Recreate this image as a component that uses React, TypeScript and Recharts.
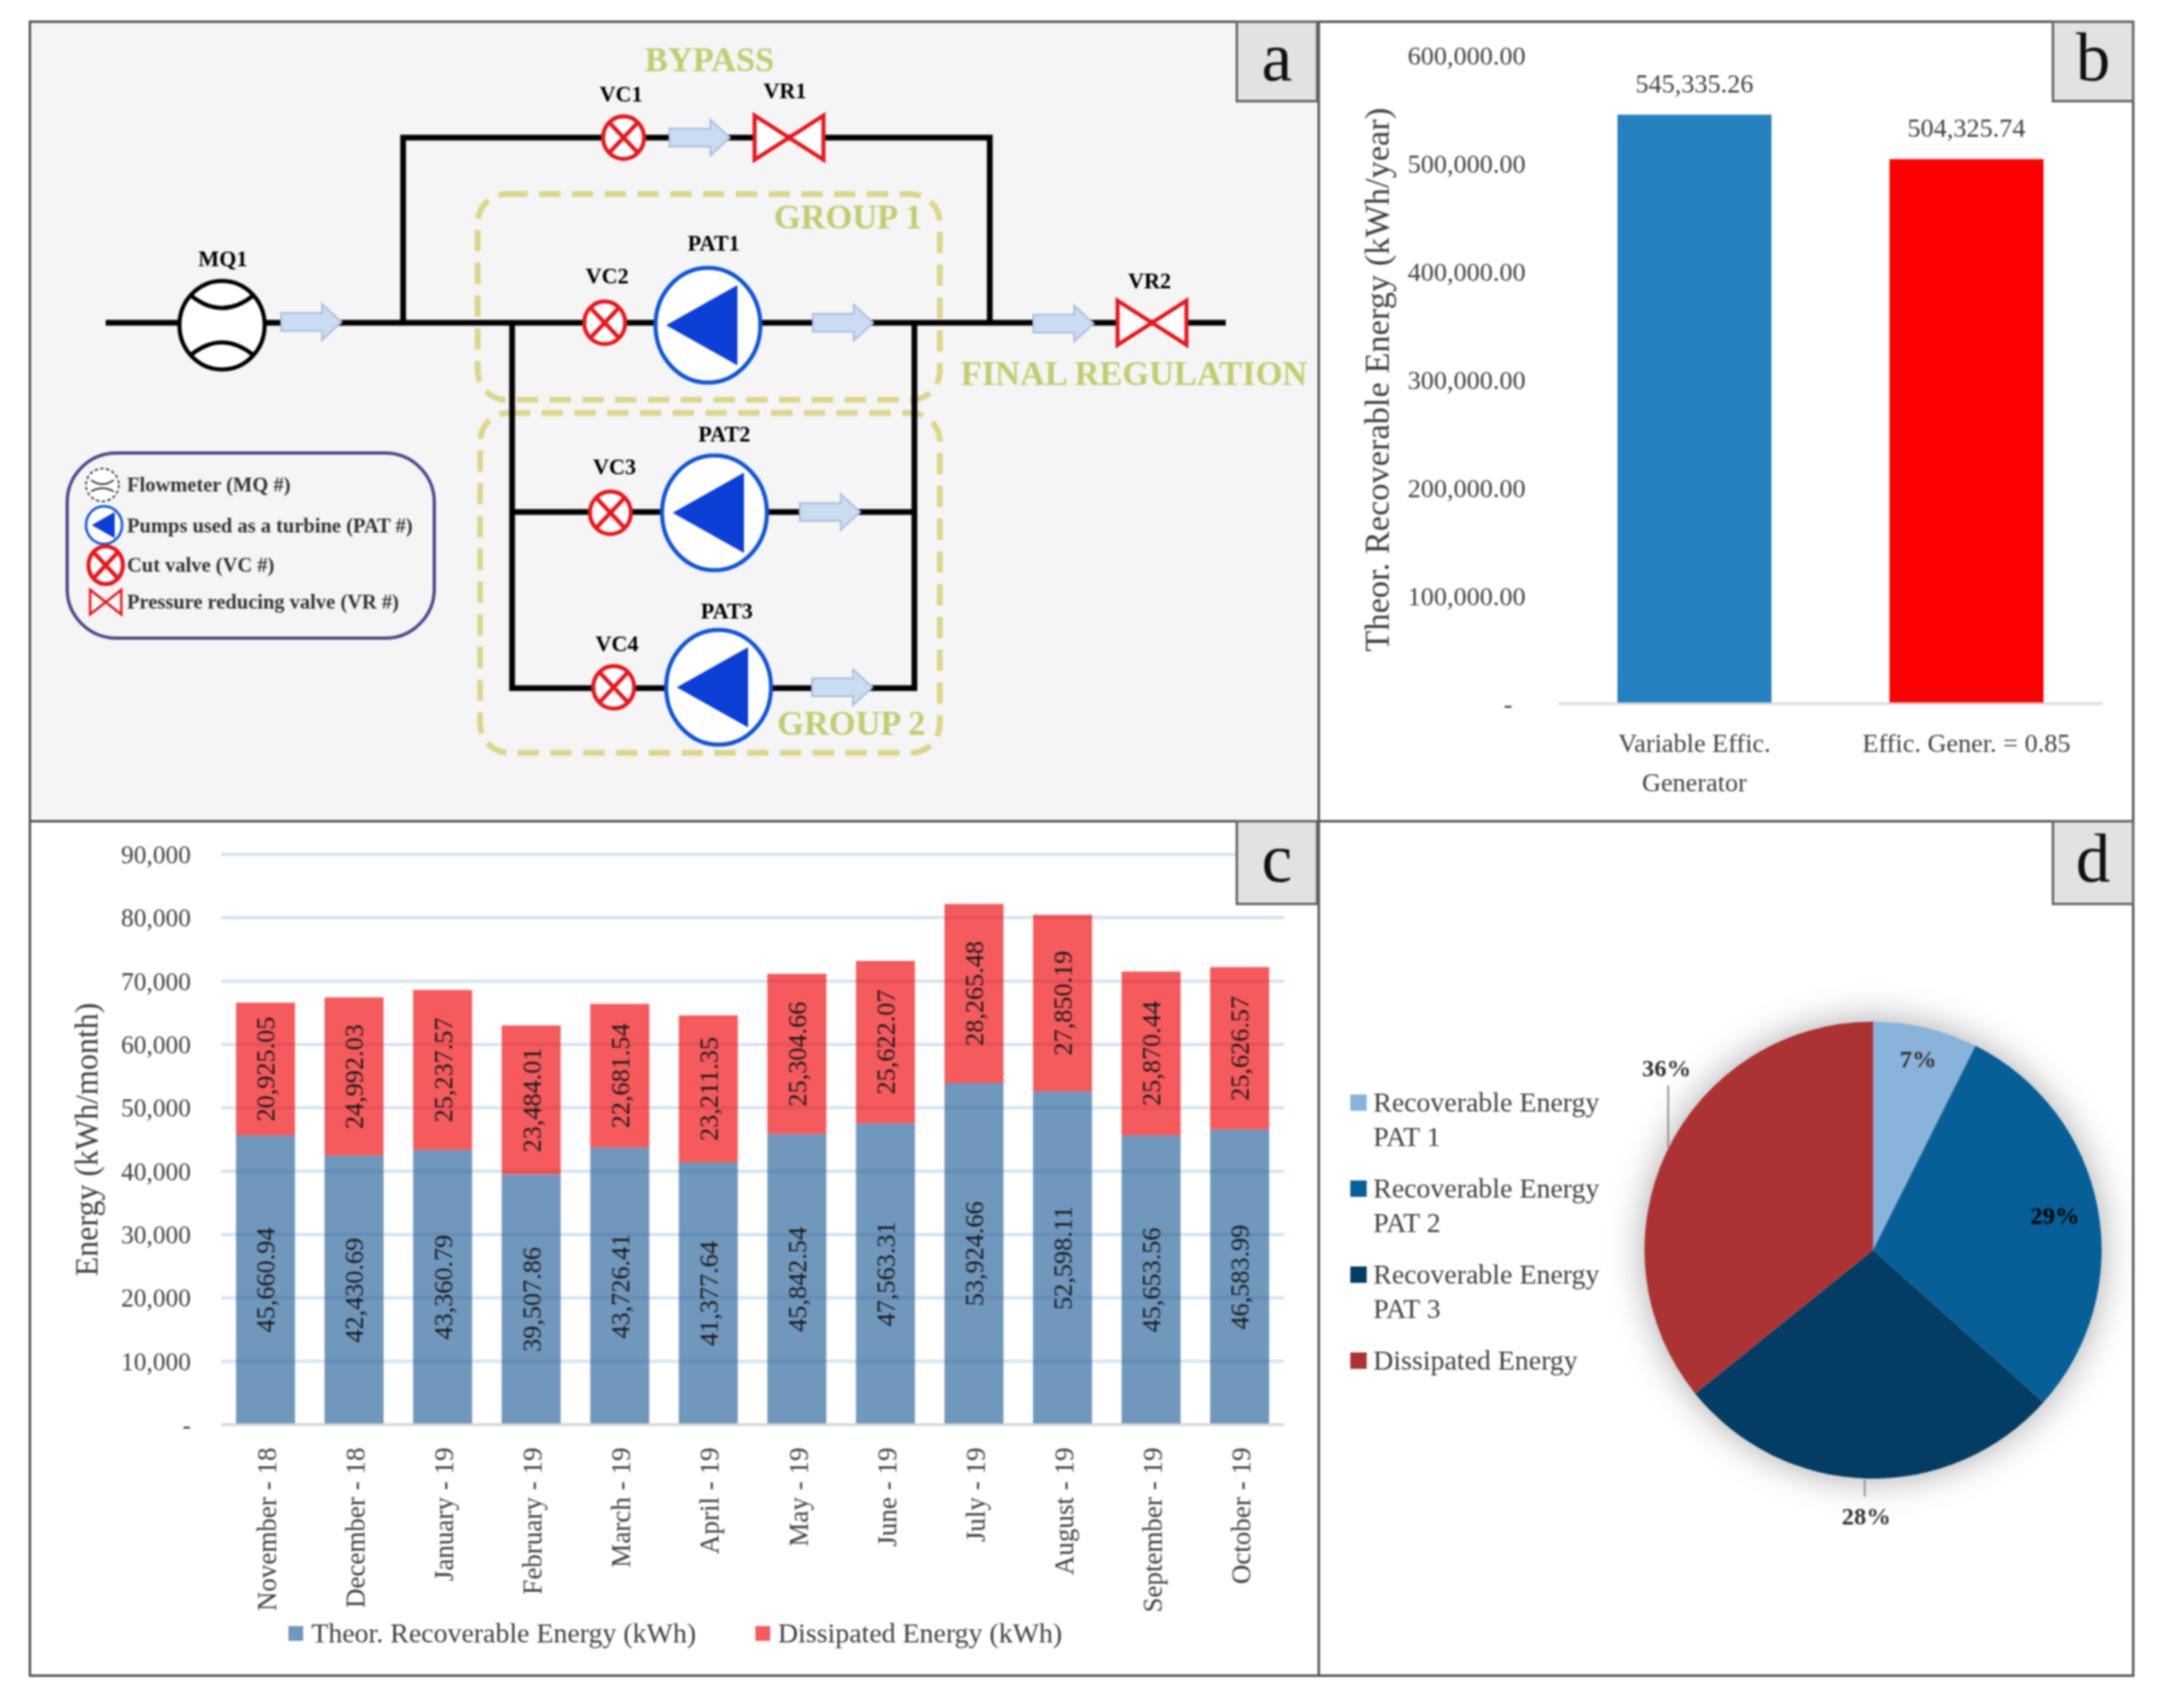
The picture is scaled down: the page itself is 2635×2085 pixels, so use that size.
import React from "react";
import { BarChart, Bar, XAxis, YAxis, CartesianGrid, LabelList, Legend, Cell, PieChart, Pie } from "recharts";

const FONT = "'Liberation Serif', serif";
const TEXT = "#404040";
const STACK_OPACITY = 0.65;

// panel b
const effCategories = ["Variable Effic. Generator", "Effic. Gener. = 0.85"];
const effLines = [["Variable Effic.", "Generator"], ["Effic. Gener. = 0.85"]];
const effValues = [545335.26, 504325.74];
const effColors = ["#2580bf", "#ff0000"];
const effTicks = [0, 100000, 200000, 300000, 400000, 500000, 600000];

// panel c
const months = ["November - 18", "December - 18", "January - 19", "February - 19", "March - 19", "April - 19", "May - 19", "June - 19", "July - 19", "August - 19", "September - 19", "October - 19"];
const recoverable = [45660.94, 42430.69, 43360.79, 39507.86, 43726.41, 41377.64, 45842.54, 47563.31, 53924.66, 52598.11, 45653.56, 46583.99];
const dissipated = [20925.05, 24992.03, 25237.57, 23484.01, 22681.54, 23211.35, 25304.66, 25622.07, 28265.48, 27850.19, 25870.44, 25626.57];
const energyTicks = [0, 10000, 20000, 30000, 40000, 50000, 60000, 70000, 80000, 90000];

// panel d
const shareNames = ["Recoverable Energy PAT 1", "Recoverable Energy PAT 2", "Recoverable Energy PAT 3", "Dissipated Energy"];
const shareValues = [7.4, 29.2, 27.6, 35.8];
const shareLabels = ["7%", "29%", "28%", "36%"];
const shareColors = ["#89b3da", "#075f97", "#043d63", "#ab3333"];

const effData = effCategories.map((name, i) => ({ name, value: effValues[i] }));
const monthData = months.map((month, i) => ({ month, recoverable: recoverable[i], dissipated: dissipated[i] }));
const shareData = shareNames.map((name, i) => ({ name, value: shareValues[i] }));

const fmt2 = (v: number) => v.toLocaleString("en-US", { minimumFractionDigits: 2, maximumFractionDigits: 2 });
const fmt0 = (v: number) => v.toLocaleString("en-US");

const EffTick = ({ x, y, index }: any) => (
  <text x={x} y={y} textAnchor="middle" fontFamily={FONT} fontSize={32} fill={TEXT}>
    {effLines[index].map((line, i) => (
      <tspan key={line} x={x} dy={i === 0 ? 23 : 48}>{line}</tspan>
    ))}
  </text>
);

const MonthTick = ({ x, y, payload }: any) => (
  <text x={x} y={y} transform={`rotate(-90 ${x} ${y})`} textAnchor="end" dy={13} fontFamily={FONT} fontSize={33} fill={TEXT}>
    {payload.value}
  </text>
);

const PieLabel = ({ cx, cy, midAngle, outerRadius, index }: any) => {
  const rad = (midAngle * Math.PI) / 180;
  // small slices sit inside, the other two outside, 36% was moved by hand in the original
  const radius = [239, 226, 325, 0][index];
  const lx = index === 3 ? cx - 252 : cx + radius * Math.cos(rad);
  const ly = index === 3 ? cy - 222 : cy - radius * Math.sin(rad);
  return (
    <g>
      {index === 2 && <line x1={lx - 2} x2={lx - 2} y1={cy + outerRadius + 1} y2={cy + outerRadius + 22} stroke="#8c8c8c" strokeWidth={2} />}
      {index === 3 && <line x1={lx + 2} x2={lx + 2} y1={ly + 21} y2={ly + 97} stroke="#8c8c8c" strokeWidth={2} />}
      <text x={lx} y={ly} dy={10} textAnchor="middle" fontFamily={FONT} fontSize={30} fontWeight="bold" fill={index === 1 ? "#000" : "#333"}>
        {shareLabels[index]}
      </text>
    </g>
  );
};

const ShareLegend = ({ payload }: any) => (
  <div style={{ width: 310 }}>
    {(payload || []).map((p: any) => (
      <div key={p.value} style={{ display: "flex", marginBottom: 21, fontFamily: FONT, fontSize: 34, lineHeight: "42px", color: TEXT }}>
        <div style={{ width: 20, height: 20, background: p.color, marginTop: 11, marginRight: 8, flexShrink: 0 }} />
        <div style={{ width: 280 }}>{p.value}</div>
      </div>
    ))}
  </div>
);

const MonthLegend = ({ payload }: any) => (
  <div style={{ display: "flex", fontFamily: FONT, fontSize: 34, color: TEXT, whiteSpace: "nowrap" }}>
    {(payload || []).map((p: any) => (
      <div key={p.value} style={{ display: "flex", alignItems: "center", marginRight: 72 }}>
        <div style={{ width: 18, height: 18, background: p.color, opacity: STACK_OPACITY, marginRight: 10 }} />
        {p.value}
      </div>
    ))}
  </div>
);

// schematic of panel a, not data driven
const Valve = ({ x, y }: any) => (
  <g stroke="#e8171d" strokeWidth={5} fill="#fff">
    <ellipse cx={x} cy={y} rx={25} ry={26} />
    <line x1={x - 17} y1={y - 18} x2={x + 17} y2={y + 18} />
    <line x1={x - 17} y1={y + 18} x2={x + 17} y2={y - 18} />
  </g>
);
const Reducer = ({ x, y, hw = 42, hh = 27, sw = 5 }: any) => (
  <polygon points={`${x - hw},${y - hh} ${x + hw},${y + hh} ${x + hw},${y - hh} ${x - hw},${y + hh}`} fill="#fff" stroke="#e8171d" strokeWidth={sw} />
);
const Pump = ({ x, y }: any) => (
  <g>
    <ellipse cx={x} cy={y} rx={64} ry={70} fill="#fff" stroke="#0f55d8" strokeWidth={5} />
    <polygon points={`${x - 51},${y} ${x + 36},${y - 49} ${x + 36},${y + 49}`} fill="#0b3fd6" />
  </g>
);
const FlowArrow = ({ x, y }: any) => (
  <polygon
    points={`${x},${y - 11} ${x + 50},${y - 11} ${x + 50},${y - 22} ${x + 74},${y} ${x + 50},${y + 22} ${x + 50},${y + 11} ${x},${y + 11}`}
    fill="#c9dcf2"
    stroke="#a9bcdc"
    strokeWidth={2}
  />
);
const Tag = ({ x, y, children }: any) => (
  <text x={x} y={y + 10} textAnchor="middle" fontFamily={FONT} fontSize={27} fontWeight="bold" fill="#000">{children}</text>
);
const Green = ({ x, y, children, size = 42 }: any) => (
  <text x={x} y={y + 14} textAnchor="middle" fontFamily={FONT} fontSize={size} fontWeight="bold" fill="#c3cc6e">{children}</text>
);
const KeyText = ({ y, children }: any) => (
  <text x={155} y={y + 8} fontFamily={FONT} fontSize={25} fontWeight="bold" fill="#333">{children}</text>
);

const Schematic = () => (
  <svg width={2635} height={2085} style={{ position: "absolute", left: 0, top: 0 }}>
    <g fill="none" stroke="#dcd68a" strokeWidth={7} strokeDasharray="26 14">
      <rect x={583} y={237} width={564} height={251} rx={35} />
      <rect x={586} y={504} width={561} height={415} rx={35} />
    </g>
    <g fill="none" stroke="#000" strokeWidth={7}>
      <line x1={129} y1={394} x2={1496} y2={394} />
      <polyline points="492,394 492,168 1208,168 1208,394" />
      <polyline points="625,394 625,840 1116,840 1116,394" />
      <line x1={625} y1={625} x2={1116} y2={625} />
    </g>
    <ellipse cx={271} cy={397} rx={52} ry={54} fill="#fff" stroke="#000" strokeWidth={5} />
    <path d="M232 360 Q271 392 310 360 M232 434 Q271 402 310 434" fill="none" stroke="#000" strokeWidth={5} />
    <Pump x={864} y={397} />
    <Pump x={872} y={626} />
    <Pump x={877} y={839} />
    <Valve x={761} y={168} />
    <Valve x={738} y={394} />
    <Valve x={745} y={626} />
    <Valve x={749} y={839} />
    <Reducer x={963} y={168} />
    <Reducer x={1406} y={394} />
    <FlowArrow x={343} y={393} />
    <FlowArrow x={817} y={168} />
    <FlowArrow x={992} y={394} />
    <FlowArrow x={1261} y={395} />
    <FlowArrow x={976} y={625} />
    <FlowArrow x={991} y={839} />
    <Tag x={272} y={315}>MQ1</Tag>
    <Tag x={871} y={296}>PAT1</Tag>
    <Tag x={884} y={529}>PAT2</Tag>
    <Tag x={887} y={745}>PAT3</Tag>
    <Tag x={758} y={114}>VC1</Tag>
    <Tag x={741} y={336}>VC2</Tag>
    <Tag x={750} y={569}>VC3</Tag>
    <Tag x={753} y={785}>VC4</Tag>
    <Tag x={958} y={110}>VR1</Tag>
    <Tag x={1403} y={342}>VR2</Tag>
    <Green x={866} y={73}>BYPASS</Green>
    <Green x={1035} y={265}>GROUP 1</Green>
    <Green x={1039} y={883}>GROUP 2</Green>
    <Green x={1384} y={456}>FINAL REGULATION</Green>
    <rect x={82} y={553} width={448} height={226} rx={60} fill="#f5f5f5" stroke="#4a4a8a" strokeWidth={4} />
    <ellipse cx={125} cy={592} rx={20} ry={20} fill="#fff" stroke="#333" strokeWidth={2} strokeDasharray="4 3" />
    <path d="M111 586 Q125 596 139 586 M111 600 Q125 592 139 600" fill="none" stroke="#333" strokeWidth={2} />
    <ellipse cx={127} cy={641} rx={22} ry={23} fill="#fff" stroke="#0f55d8" strokeWidth={3} />
    <polygon points="112,641 140,625 140,657" fill="#0b3fd6" />
    <g stroke="#e8171d" strokeWidth={5} fill="#fff">
      <ellipse cx={129} cy={690} rx={21} ry={23} />
      <line x1={115} y1={675} x2={143} y2={705} />
      <line x1={115} y1={705} x2={143} y2={675} />
    </g>
    <Reducer x={129} y={735} hw={19} hh={15} sw={3} />
    <KeyText y={592}>Flowmeter (MQ #)</KeyText>
    <KeyText y={642}>Pumps used as a turbine (PAT #)</KeyText>
    <KeyText y={690}>Cut valve (VC #)</KeyText>
    <KeyText y={735}>Pressure reducing valve (VR #)</KeyText>
  </svg>
);

const panel = (left: number, top: number, width: number, height: number, bg = "transparent"): React.CSSProperties => ({
  position: "absolute", left, top, width, height, boxSizing: "border-box", border: "3px solid #555", background: bg,
});

const Corner = ({ left, top, height, children }: any) => (
  <div style={{ position: "absolute", left, top, width: 101, height, boxSizing: "border-box", background: "#e2e2e2", border: "3px solid #666", fontFamily: FONT, fontSize: 84, lineHeight: `${height - 16}px`, textAlign: "center", color: "#111" }}>
    {children}
  </div>
);

export default function App() {
  return (
    <div style={{ position: "absolute", left: 0, top: 0, width: 2635, height: 2085, background: "#fff", overflow: "hidden", filter: "blur(0.9px)" }}>
      <div style={panel(35, 25, 1576, 979, "#f5f5f5")} />
      <div style={panel(1608, 25, 997, 979)} />
      <div style={panel(35, 1001, 1576, 1046)} />
      <div style={panel(1608, 1001, 997, 1046)} />

      <Schematic />

      <div style={{ position: "absolute", left: 1610, top: 25 }}>
        <BarChart width={995} height={978} data={effData} margin={{ top: 43, right: 39, bottom: 0, left: 0 }} barCategoryGap="21.7%">
          <XAxis dataKey="name" height={144} interval={0} tick={<EffTick />} tickLine={false} tickMargin={30} axisLine={{ stroke: "#d9d9d9", strokeWidth: 3 }} />
          <YAxis
            width={292}
            domain={[0, 600000]}
            ticks={effTicks}
            tickFormatter={(v: number) => (v === 0 ? "-\u00a0\u00a0" : fmt2(v))}
            tick={{ fontFamily: FONT, fontSize: 32, fill: TEXT }}
            tickLine={false}
            axisLine={false}
            tickMargin={34}
            label={{ value: "Theor. Recoverable Energy (kWh/year)", angle: -90, position: "insideLeft", offset: 70, style: { textAnchor: "middle", fontFamily: FONT, fontSize: 42, fill: TEXT } }}
          />
          <Bar dataKey="value" isAnimationActive={false}>
            {effData.map((d, i) => <Cell key={d.name} fill={effColors[i]} />)}
            <LabelList dataKey="value" position="top" offset={27} formatter={fmt2} style={{ fontFamily: FONT, fontSize: 32, fill: TEXT }} />
          </Bar>
        </BarChart>
      </div>

      <div style={{ position: "absolute", left: 35, top: 1003 }}>
        <BarChart width={1575} height={1044} data={monthData} margin={{ top: 40, right: 43, bottom: 0, left: 0 }} barCategoryGap="16.7%">
          <CartesianGrid vertical={false} stroke="#3f85c6" strokeOpacity={0.22} strokeWidth={4} />
          <XAxis dataKey="month" height={308} interval={0} tick={<MonthTick />} tickLine={false} tickMargin={22} axisLine={{ stroke: "#d9d9d9", strokeWidth: 3 }} />
          <YAxis
            width={235}
            domain={[0, 90000]}
            ticks={energyTicks}
            tickFormatter={(v: number) => (v === 0 ? "-" : fmt0(v))}
            tick={{ fontFamily: FONT, fontSize: 31, fill: TEXT }}
            tickLine={false}
            axisLine={false}
            tickMargin={31}
            label={{ value: "Energy (kWh/month)", angle: -90, position: "insideLeft", offset: 70, style: { textAnchor: "middle", fontFamily: FONT, fontSize: 39, fill: TEXT } }}
          />
          <Legend
            layout="vertical"
            align="center"
            verticalAlign="middle"
            itemSorter={null}
            wrapperStyle={{ left: 317, top: 972, width: "auto" }}
            content={<MonthLegend />}
          />
          <Bar dataKey="recoverable" name="Theor. Recoverable Energy (kWh)" stackId="e" fill="#235f98" fillOpacity={STACK_OPACITY} isAnimationActive={false}>
            <LabelList dataKey="recoverable" position="center" angle={-90} formatter={fmt2} style={{ fontFamily: FONT, fontSize: 32, fill: "#1a1a1a" }} />
          </Bar>
          <Bar dataKey="dissipated" name="Dissipated Energy (kWh)" stackId="e" fill="#f00206" fillOpacity={STACK_OPACITY} isAnimationActive={false}>
            <LabelList dataKey="dissipated" position="center" angle={-90} formatter={fmt2} style={{ fontFamily: FONT, fontSize: 32, fill: "#1a1a1a" }} />
          </Bar>
        </BarChart>
      </div>

      <div style={{ position: "absolute", left: 2286 - 279, top: 1526 - 279, width: 558, height: 558, borderRadius: "50%", boxShadow: "0 0 45px rgba(0,0,0,0.35)" }} />

      <div style={{ position: "absolute", left: 1610, top: 1003 }}>
        <PieChart width={995} height={1044} margin={{ top: 0, right: 0, bottom: 0, left: 0 }}>
          <Legend
            layout="vertical"
            align="center"
            verticalAlign="middle"
            itemSorter={null}
            wrapperStyle={{ left: 38, top: 322, width: "auto" }}
            content={<ShareLegend />}
          />
          <Pie
            data={shareData}
            dataKey="value"
            nameKey="name"
            cx={676}
            cy={523}
            outerRadius={279}
            startAngle={90}
            endAngle={-270}
            stroke="none"
            label={<PieLabel />}
            labelLine={false}
            isAnimationActive={false}
          >
            {shareData.map((d, i) => <Cell key={d.name} fill={shareColors[i]} />)}
          </Pie>
        </PieChart>
      </div>

      <Corner left={1508} top={25} height={100}>a</Corner>
      <Corner left={2504} top={25} height={100}>b</Corner>
      <Corner left={1508} top={1001} height={104}>c</Corner>
      <Corner left={2504} top={1001} height={104}>d</Corner>
    </div>
  );
}
